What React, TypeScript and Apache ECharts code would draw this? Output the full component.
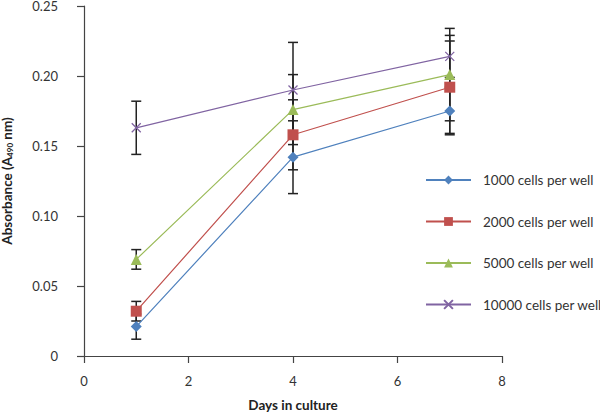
import React, { useEffect, useRef } from "react";
import * as echarts from "echarts";

const days = [1, 4, 7];
const seriesNames = [
  "1000 cells per well",
  "2000 cells per well",
  "5000 cells per well",
  "10000 cells per well",
];
const abs1000 = [0.021, 0.142, 0.175];
const abs2000 = [0.032, 0.158, 0.192];
const abs5000 = [0.069, 0.176, 0.201];
const abs10000 = [0.163, 0.19, 0.214];
const err1000 = [0.009, 0.026, 0.017];
const err2000 = [0.007, 0.025, 0.033];
const err5000 = [0.007, 0.025, 0.033];
const err10000 = [0.019, 0.034, 0.015];
const xTicks = [0, 2, 4, 6, 8];
const yTicks = [0, 0.05, 0.1, 0.15, 0.2, 0.25];

const colors = ["#4F81BD", "#C0504D", "#9BBB59", "#8064A2"];
const symbols = ["diamond", "rect", "triangle", "path://M0,0L10,10M10,0L0,10"];
const values = [abs1000, abs2000, abs5000, abs10000];
const errors = [err1000, err2000, err5000, err10000];

export default function App() {
  const ref = useRef<HTMLDivElement>(null);
  useEffect(() => {
    if (!ref.current) return;
    const chart = echarts.init(ref.current, undefined, { renderer: "svg" });
    const font = "Lato, 'Noto Sans', sans-serif";

    const lineSeries = seriesNames.map((name, i) => ({
      name,
      type: "line",
      z: 5,
      data: days.map((d, j) => [d, values[i][j]]),
      symbol: symbols[i],
      symbolSize: i === 3 ? 9 : i === 1 ? 11 : 11,
      lineStyle: { color: colors[i], width: 1.2 },
      itemStyle:
        i === 3
          ? { color: "none", borderColor: colors[i], borderWidth: 1.3 }
          : { color: colors[i], borderWidth: 0 },
    }));

    const errSeries = seriesNames.map((name, i) => ({
      name: name + " err",
      type: "custom",
      z: 2,
      encode: { x: 0, y: 1 },
      data: days.map((d, j) => [d, values[i][j], errors[i][j]]),
      renderItem: (params: any, api: any) => {
        const x = api.value(0);
        const y = api.value(1);
        const e = api.value(2);
        const top = api.coord([x, y + e]);
        const bot = api.coord([x, y - e]);
        const hw = 5;
        const style = { stroke: "#222", lineWidth: 1.5 };
        return {
          type: "group",
          children: [
            { type: "line", shape: { x1: top[0], y1: top[1], x2: bot[0], y2: bot[1] }, style },
            { type: "line", shape: { x1: top[0] - hw, y1: top[1], x2: top[0] + hw, y2: top[1] }, style },
            { type: "line", shape: { x1: bot[0] - hw, y1: bot[1], x2: bot[0] + hw, y2: bot[1] }, style },
          ],
        };
      },
    }));

    chart.setOption({
      animation: false,
      textStyle: { fontFamily: font },
      grid: { left: 84, right: 98, top: 6, bottom: 58, containLabel: false, outerBoundsMode: "none" },
      legend: {
        orient: "vertical",
        left: 420,
        top: 168,
        itemWidth: 45,
        itemHeight: 11,
        itemGap: 27.5,
        data: seriesNames,
        textStyle: { fontFamily: font, fontSize: 13.5, color: "#333", padding: [0, 0, 0, 7] },
      },
      xAxis: {
        type: "value",
        min: xTicks[0],
        max: xTicks[xTicks.length - 1],
        interval: 2,
        name: "Days in culture",
        nameLocation: "middle",
        nameGap: 42,
        nameTextStyle: { fontFamily: font, fontSize: 13.5, fontWeight: "bold", color: "#222" },
        axisLine: { lineStyle: { color: "#444", width: 1.2 } },
        axisTick: { show: true, length: 7, lineStyle: { color: "#444", width: 1.2 } },
        axisLabel: { fontFamily: font, fontSize: 13, color: "#333", margin: 18 },
        splitLine: { show: false },
      },
      yAxis: {
        type: "value",
        min: yTicks[0],
        max: yTicks[yTicks.length - 1],
        interval: 0.05,
        name: "{a|Absorbance (A}{s|490}{a| nm)}",
        nameLocation: "middle",
        nameGap: 70,
        nameTextStyle: {
          rich: {
            a: { fontFamily: font, fontSize: 13.5, fontWeight: "bold", color: "#222" },
            s: { fontFamily: font, fontSize: 8, fontWeight: "bold", color: "#222", verticalAlign: "bottom", padding: [5, 0, 0, 0] },
          },
        },
        axisLine: { show: true, lineStyle: { color: "#444", width: 1.2 } },
        axisTick: { show: true, length: 7, lineStyle: { color: "#444", width: 1.2 } },
        axisLabel: {
          fontFamily: font,
          fontSize: 13,
          color: "#333",
          margin: 26,
          formatter: (v: number) => (v === 0 ? "0" : v.toFixed(2)),
        },
        splitLine: { show: false },
      },
      series: [...errSeries, ...lineSeries],
    });
    return () => chart.dispose();
  }, []);
  return <div ref={ref} style={{ width: 600, height: 414, position: "absolute", left: 0, top: 0 }} />;
}
